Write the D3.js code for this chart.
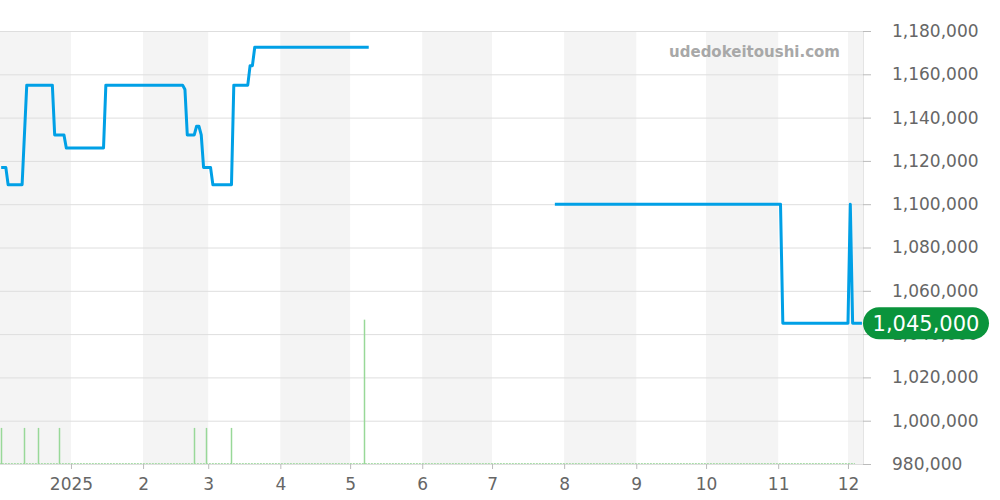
<!DOCTYPE html>
<html><head><meta charset="utf-8">
<script src="https://cdn.jsdelivr.net/npm/d3@7"></script>
<style>body{margin:0;background:#fff}svg{display:block;font-family:"DejaVu Sans",sans-serif}</style>
</head><body><svg id="c" width="1000" height="500"></svg>
<script>
// price series (date, yen); two separate runs
const priceDates1 = ["2024-12-02","2024-12-04","2024-12-05","2024-12-11","2024-12-13","2024-12-24","2024-12-25","2024-12-29","2024-12-30","2025-01-15","2025-01-16","2025-02-18","2025-02-19","2025-02-20","2025-02-23","2025-02-24","2025-02-25","2025-02-26","2025-02-27","2025-03-02","2025-03-03","2025-03-11","2025-03-12","2025-03-18","2025-03-19","2025-03-20","2025-03-21","2025-05-09"];
const priceValues1 = [1117000,1117000,1109000,1109000,1155000,1155000,1132000,1132000,1126000,1126000,1155000,1155000,1153000,1132000,1132000,1136000,1136000,1132000,1117000,1117000,1109000,1109000,1155000,1155000,1164000,1164000,1172500,1172500];
const priceDates2 = ["2025-07-28","2025-11-02","2025-11-03","2025-12-01","2025-12-02","2025-12-03","2025-12-07"];
const priceValues2 = [1100000,1100000,1045000,1045000,1100000,1045000,1045000];
// volume (number of listings)
const volumeDates = ["2024-12-02","2024-12-12","2024-12-18","2024-12-27","2025-02-23","2025-02-28","2025-03-11","2025-05-07"];
const volumeValues = [1,1,1,1,1,1,1,4];
const yTicks = [980000,1000000,1020000,1040000,1060000,1080000,1100000,1120000,1140000,1160000,1180000];
const monthTicks = ["2025-01-01","2025-02-01","2025-03-01","2025-04-01","2025-05-01","2025-06-01","2025-07-01","2025-08-01","2025-09-01","2025-10-01","2025-11-01","2025-12-01"];
const monthLabels = ["2025","2","3","4","5","6","7","8","9","10","11","12"];
const bandStarts = ["2024-12-01","2025-02-01","2025-04-01","2025-06-01","2025-08-01","2025-10-01","2025-12-01"];
const bandEnds = ["2025-01-01","2025-03-01","2025-05-01","2025-07-01","2025-09-01","2025-11-01","2026-01-01"];
const lastPrice = 1045000;
const watermark = "udedokeitoushi.com";

const P = d3.timeParse("%Y-%m-%d");
const W = 863, T = 31, B = 464;
const svg = d3.select("#c");
const x = d3.scaleTime().domain([new Date(2024,11,1,12), new Date(2025,11,7,11)]).range([0, W]);
const y = d3.scaleLinear().domain([980000,1180000]).range([B, T]);
const vy = d3.scaleLinear().domain([0, d3.max(volumeValues)*3]).range([B, T]);

svg.append("defs").append("clipPath").attr("id","pc").append("rect")
  .attr("x",0).attr("y",T).attr("width",W).attr("height",B-T);
const gBand = svg.append("g").attr("clip-path","url(#pc)");
const gGrid = svg.append("g");
const gData = svg.append("g").attr("clip-path","url(#pc)");

// bands
gBand.selectAll("rect.band").data(bandStarts).join("rect").attr("class","band")
  .attr("x", d=>x(P(d))).attr("y",T)
  .attr("width",(d,i)=>x(P(bandEnds[i]))-x(P(d))).attr("height",B-T)
  .attr("fill","#f4f4f4");

// grid
gGrid.selectAll("line").data(yTicks).join("line")
  .attr("x1",0).attr("x2",W).attr("y1",d=>y(d)+0.5).attr("y2",d=>y(d)+0.5)
  .attr("stroke","#dedede").attr("stroke-width",1);
gGrid.append("line").attr("x1",W+0.5).attr("x2",W+0.5).attr("y1",T).attr("y2",B)
  .attr("stroke","#e4e4e4");

// y axis
const ya = svg.append("g").attr("transform",`translate(${W},0)`)
  .call(d3.axisRight(y).tickValues(yTicks).tickFormat(d3.format(",")).tickSize(8).tickPadding(21));
ya.select(".domain").remove();
ya.selectAll(".tick line").attr("stroke","#bbb");
ya.selectAll(".tick text").attr("fill","#666").attr("font-size",17).attr("font-family","DejaVu Sans");

// x axis
const xa = svg.append("g").attr("transform",`translate(0,${B})`)
  .call(d3.axisBottom(x).tickValues(monthTicks.map(P)).tickFormat((d,i)=>monthLabels[i]).tickSize(5).tickPadding(9));
xa.select(".domain").remove();
xa.selectAll(".tick line").attr("stroke","#bbb");
xa.selectAll(".tick text").attr("fill","#666").attr("font-size",17).attr("font-family","DejaVu Sans");

// volume baseline (zero days)
gData.append("line").attr("x1",x(P("2024-12-01"))).attr("x2",x(P("2025-12-04")))
  .attr("y1",B-0.5).attr("y2",B-0.5).attr("stroke","#a8dca8").attr("stroke-dasharray","2,1");
// volume bars
gData.selectAll("line.vol").data(volumeDates).join("line").attr("class","vol")
  .attr("x1",d=>Math.round(x(P(d)))+0.5).attr("x2",d=>Math.round(x(P(d)))+0.5)
  .attr("y1",B).attr("y2",(d,i)=>vy(volumeValues[i]))
  .attr("stroke","#98d898").attr("stroke-width",1.5);

// price line
const line = d3.line().x(d=>x(d[0])).y(d=>y(d[1]));
[[priceDates1,priceValues1],[priceDates2,priceValues2]].forEach(([ds,vs])=>{
  gData.append("path").datum(ds.map((d,i)=>[P(d),vs[i]]))
    .attr("d",line).attr("fill","none").attr("stroke","#00a0e6")
    .attr("stroke-width",3).attr("stroke-linejoin","round");
});

// watermark
svg.append("text").attr("x",840).attr("y",57).attr("text-anchor","end")
  .attr("font-size",15).attr("font-weight","bold").attr("fill","#a8a8a8").text(watermark);

// last price label
const ly = y(lastPrice);
svg.append("rect").attr("x",W).attr("y",ly-16).attr("width",126).attr("height",32)
  .attr("rx",16).attr("fill","#0a943c");
svg.append("text").attr("x",W+63).attr("y",ly+7.5).attr("text-anchor","middle")
  .attr("font-size",21).attr("fill","#fff").text(d3.format(",")(lastPrice));
</script></body></html>
